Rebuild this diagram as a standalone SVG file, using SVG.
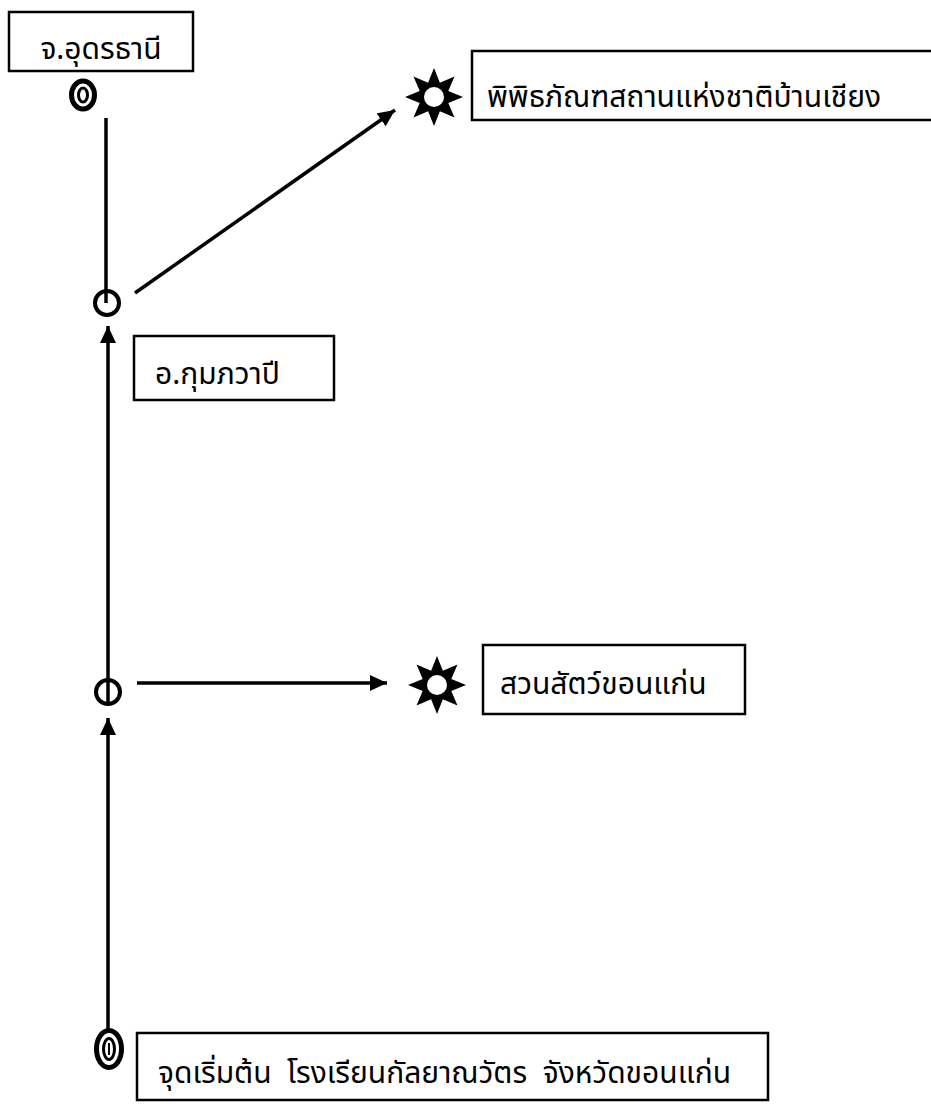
<svg xmlns="http://www.w3.org/2000/svg" width="931" height="1104" viewBox="0 0 931 1104">
<style>
.box{fill:#fff;stroke:#000;stroke-width:2.5}
.t{font-family:"Noto Sans Thai","Noto Sans Thai Looped","Tahoma","Noto Sans","DejaVu Sans",sans-serif;font-size:30px;fill:#000;white-space:pre}
.ln{stroke:#000;stroke-width:3.5;fill:none}
.ring{fill:#fff;stroke:#000;stroke-width:4}
</style>
<defs>
<marker id="ah" markerUnits="userSpaceOnUse" markerWidth="18" markerHeight="17" refX="17" refY="8" orient="auto">
<path d="M0,0 L17,8 L0,16 z" fill="#000"/>
</marker>
<g id="star">
<path d="M29,0 L14.3,5.9 L20.5,20.5 L5.9,14.3 L0,29 L-5.9,14.3 L-20.5,20.5 L-14.3,5.9 L-29,0 L-14.3,-5.9 L-20.5,-20.5 L-5.9,-14.3 L0,-29 L5.9,-14.3 L20.5,-20.5 L14.3,-5.9 z" fill="#000"/>
<circle r="10" fill="#fff"/>
</g>
</defs>
<rect width="931" height="1104" fill="#fff"/>
<g id="connectors">
<line class="ln" x1="106" y1="118" x2="106" y2="303"/>
<line class="ln" x1="135" y1="293" x2="395" y2="110" marker-end="url(#ah)"/>
<line class="ln" x1="108" y1="692" x2="108" y2="326" marker-end="url(#ah)"/>
<line class="ln" x1="137" y1="683" x2="387" y2="683" marker-end="url(#ah)"/>
<line class="ln" x1="108" y1="1030" x2="108" y2="718" marker-end="url(#ah)"/>
</g>
<g id="node-udon">
<rect class="box" x="9" y="12" width="184" height="59"/>
<text class="t" x="101" y="59" text-anchor="middle">จ.อุดรธานี</text>
<ellipse cx="83" cy="95" rx="11.5" ry="14" fill="#fff" stroke="#000" stroke-width="5"/>
<ellipse cx="83" cy="95" rx="4.5" ry="7" fill="none" stroke="#000" stroke-width="3"/>
</g>
<g id="node-kumphawapi">
<circle class="ring" cx="107" cy="303" r="12"/>
<line class="ln" x1="106" y1="291" x2="106" y2="303"/>
<rect class="box" x="134" y="336" width="200" height="64"/>
<text class="t" x="155" y="384">อ.กุมภวาปี</text>
</g>
<g id="node-museum">
<use href="#star" x="434" y="97"/>
<rect class="box" x="472" y="51" width="470" height="69"/>
<text class="t" x="487" y="107">พิพิธภัณฑสถานแห่งชาติบ้านเชียง</text>
</g>
<g id="node-junction2">
<circle class="ring" cx="108" cy="692" r="12"/>
<line class="ln" x1="108" y1="680" x2="108" y2="704"/>
</g>
<g id="node-zoo">
<use href="#star" x="437" y="685"/>
<rect class="box" x="483" y="645" width="262" height="69"/>
<text class="t" x="500" y="694">สวนสัตว์ขอนแก่น</text>
</g>
<g id="node-start">
<ellipse cx="109" cy="1049" rx="12.5" ry="18.5" fill="#fff" stroke="#000" stroke-width="5"/>
<ellipse cx="109" cy="1049" rx="5.5" ry="10.5" fill="none" stroke="#000" stroke-width="3"/>
<line x1="109" y1="1043" x2="109" y2="1055" stroke="#000" stroke-width="2"/>
<rect class="box" x="137" y="1033" width="631" height="67"/>
<text class="t" x="158" y="1083">จุดเริ่มต้น  โรงเรียนกัลยาณวัตร  จังหวัดขอนแก่น</text>
</g>
</svg>
